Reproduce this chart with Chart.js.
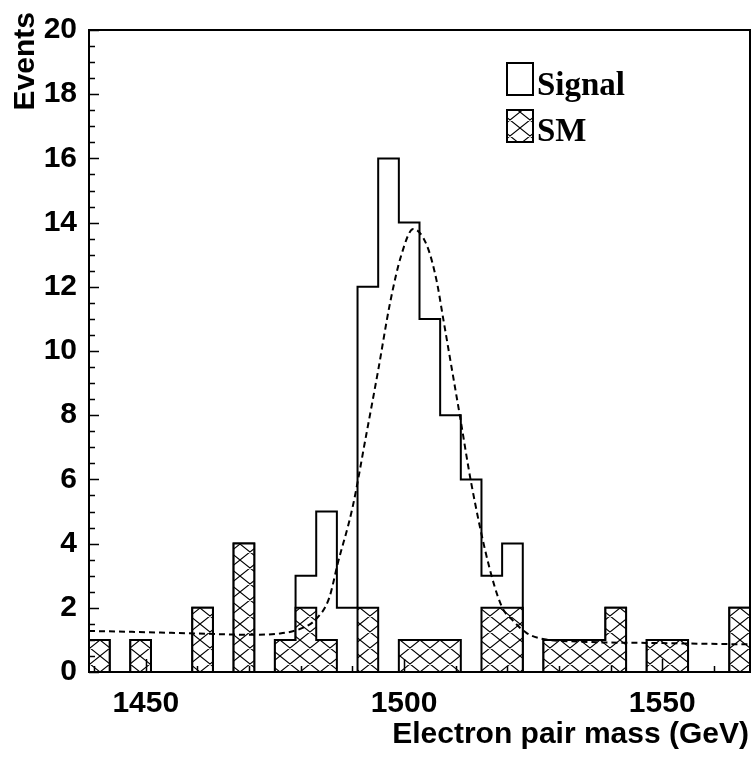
<!DOCTYPE html>
<html>
<head>
<meta charset="utf-8">
<script src="https://cdn.jsdelivr.net/npm/chart.js@4"></script>
<style>
  html, body { margin: 0; padding: 0; background: #fff; }
  #c { display: block; }
</style>
</head>
<body>
<canvas id="c" width="752" height="757"></canvas>
<script>
// bin edges (GeV), 4 GeV bins
var binEdges = [1439, 1443, 1447, 1451, 1455, 1459, 1463, 1467, 1471, 1475, 1479,
  1483, 1487, 1491, 1495, 1499, 1503, 1507, 1511, 1515, 1519, 1523, 1527, 1531,
  1535, 1539, 1543, 1547, 1551, 1555, 1559, 1563, 1567];

// open histogram (signal on top of SM), events per bin
var signalCounts = [1, 0, 1, 0, 0, 2, 0, 4, 0, 1, 3, 5, 2, 12, 16, 14, 11, 8, 6, 3, 4, 0,
  1, 1, 1, 2, 0, 1, 1, 0, 0, 2];
// hatched SM background
var smCounts = [1, 0, 1, 0, 0, 2, 0, 4, 0, 1, 2, 1, 0, 2, 0, 1, 1, 1, 0, 2, 2, 0,
  1, 1, 1, 2, 0, 1, 1, 0, 0, 2];

// dashed fit curve
var fitMass = [1439, 1450, 1460, 1470, 1476, 1480, 1483, 1485.5, 1487.2, 1490, 1492.7,
  1495, 1497.3, 1499.5, 1501.8, 1504.4, 1506.3, 1507.6, 1509.2, 1510.8, 1513,
  1516.3, 1518.9, 1521.1, 1523.7, 1526.3, 1533.5, 1550, 1567];
var fitEvents = [1.28, 1.24, 1.2, 1.16, 1.2, 1.35, 1.65, 2.3, 3.4, 5.1, 7.4,
  9.4, 11.5, 13.0, 13.8, 13.3, 12.2, 11.0, 9.5, 8.0, 5.9,
  3.4, 2.05, 1.6, 1.22, 1.05, 0.95, 0.9, 0.86];

var xTicks = [1450, 1500, 1550];
var yTicks = [0, 2, 4, 6, 8, 10, 12, 14, 16, 18, 20];

function stepPoints(counts) {
  var pts = [{ x: binEdges[0], y: 0 }];
  counts.forEach(function (v, i) { pts.push({ x: binEdges[i], y: v }); });
  var last = binEdges[binEdges.length - 1];
  pts.push({ x: last, y: counts[counts.length - 1] });
  pts.push({ x: last, y: 0 });
  return pts;
}

function hatchPattern(ctx) {
  var w = 20, h = 16;
  var c = document.createElement('canvas');
  c.width = w; c.height = h;
  var g = c.getContext('2d');
  g.fillStyle = '#fff';
  g.fillRect(0, 0, w, h);
  g.strokeStyle = '#000';
  g.lineWidth = 1.1;
  g.beginPath();
  for (var dx = -1; dx <= 1; dx++) {
    for (var dy = -1; dy <= 1; dy++) {
      g.moveTo(dx * w, dy * h); g.lineTo(dx * w + w, dy * h + h);
      g.moveTo(dx * w, dy * h + h); g.lineTo(dx * w + w, dy * h);
    }
  }
  g.stroke();
  return ctx.createPattern(c, 'repeat');
}

var canvas = document.getElementById('c');
var ctx = canvas.getContext('2d');
var hatch = hatchPattern(ctx);

var sansBold = "bold 30px 'Liberation Sans', Arial, sans-serif";
var serifBold = "bold 33px 'Liberation Serif', 'Times New Roman', serif";

var decorations = {
  id: 'decorations',
  afterDatasetsDraw: function (chart) {
    var c = chart.ctx, a = chart.chartArea;
    var xs = chart.scales.x, ys = chart.scales.y;
    c.save();
    c.strokeStyle = '#000';
    c.lineWidth = 1.5;
    c.beginPath();
    // x ticks: minor every 10, major at labels
    for (var m = 1440; m <= 1560; m += 10) {
      var px = Math.round(xs.getPixelForValue(m)) + 0.5;
      var len = xTicks.indexOf(m) >= 0 ? 13 : 6;
      c.moveTo(px, a.bottom); c.lineTo(px, a.bottom - len);
    }
    // y ticks: minor every 0.5
    for (var k = 0; k <= 40; k++) {
      var v = k / 2;
      var py = Math.round(ys.getPixelForValue(v)) + 0.5;
      var l = (k % 4 === 0) ? 10 : 6;
      c.moveTo(a.left, py); c.lineTo(a.left + l, py);
    }
    c.stroke();

    // frame
    c.lineWidth = 2;
    c.strokeRect(a.left, a.top, a.right - a.left, a.bottom - a.top);

    // legend
    var ds = chart.data.datasets;
    c.lineWidth = 2;
    c.fillStyle = '#fff';
    c.fillRect(507, 63, 26, 32);
    c.strokeRect(507, 63, 26, 32);
    c.fillStyle = hatch;
    c.fillRect(507, 110, 26, 32);
    c.strokeRect(507, 110, 26, 32);
    c.fillStyle = '#000';
    c.font = serifBold;
    c.textAlign = 'left';
    c.textBaseline = 'alphabetic';
    c.fillText(ds[0].label, 537, 95);
    c.fillText(ds[1].label, 537, 141);

    // axis titles
    c.font = sansBold;
    c.textAlign = 'right';
    c.fillText('Electron pair mass (GeV)', 749, 743);
    c.translate(34, 12);
    c.rotate(-Math.PI / 2);
    c.fillText('Events', 0, 0);
    c.restore();
  }
};

var tickFont = { family: "'Liberation Sans', Arial, sans-serif", size: 30, weight: 'bold' };

new Chart(ctx, {
  type: 'line',
  data: {
    datasets: [
      { label: 'Signal', data: stepPoints(signalCounts), stepped: true, borderColor: '#000',
        borderWidth: 2, fill: false, pointRadius: 0, order: 3 },
      { label: 'SM', data: stepPoints(smCounts), stepped: true, borderColor: '#000',
        borderWidth: 2, backgroundColor: hatch, fill: 'origin', pointRadius: 0, order: 2 },
      { label: 'Fit', data: fitMass.map(function (m, i) { return { x: m, y: fitEvents[i] }; }),
        borderColor: '#000', borderWidth: 2, borderDash: [6, 4], fill: false,
        pointRadius: 0, cubicInterpolationMode: 'monotone', order: 1 }
    ]
  },
  options: {
    responsive: false,
    animation: false,
    devicePixelRatio: 1,
    layout: { padding: { top: 10, right: 2, left: 0, bottom: 0 } },
    plugins: { legend: { display: false }, tooltip: { enabled: false } },
    scales: {
      x: {
        type: 'linear', min: binEdges[0], max: binEdges[binEdges.length - 1],
        grid: { display: false, drawTicks: false }, border: { display: false },
        afterBuildTicks: function (s) { s.ticks = xTicks.map(function (v) { return { value: v }; }); },
        afterFit: function (s) { s.height = 85; },
        ticks: { color: '#000', padding: 14, maxRotation: 0, autoSkip: false, font: tickFont,
          callback: function (v) { return String(v); } }
      },
      y: {
        type: 'linear', min: 0, max: 20,
        grid: { display: false, drawTicks: false }, border: { display: false },
        afterBuildTicks: function (s) { s.ticks = yTicks.map(function (v) { return { value: v }; }); },
        afterFit: function (s) { s.width = 89; },
        ticks: { color: '#000', padding: 12, autoSkip: false, font: tickFont,
          callback: function (v) { return String(v); } }
      }
    }
  },
  plugins: [decorations]
});
</script>
</body>
</html>
